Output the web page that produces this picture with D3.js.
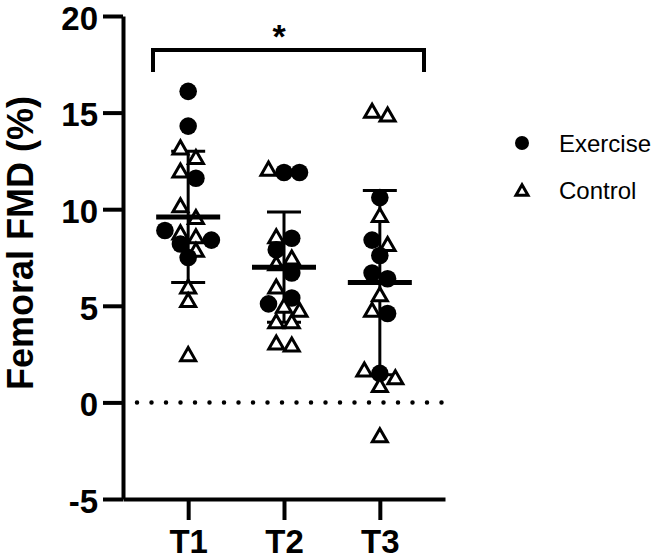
<!DOCTYPE html>
<html>
<head>
<meta charset="utf-8">
<script src="https://cdn.jsdelivr.net/npm/d3@7"></script>
<style>
    body { margin: 0; background: #ffffff; }
    svg text { font-family: "Liberation Sans", Arial, sans-serif; fill: #000000; }
</style>
</head>
<body>
<svg id="chart"></svg>
<script>
"use strict";

const width = 657;
const height = 560;

// values
const groups = ["T1", "T2", "T3"];
const exercise_t1 = [16.1, 14.3, 11.6, 8.9, 8.4, 8.2, 7.5];
const control_t1 = [13.2, 12.7, 12.0, 10.2, 9.6, 8.8, 8.6, 7.9, 6.0, 5.3, 2.5];
const exercise_t2 = [11.9, 11.9, 8.5, 7.9, 6.7, 5.4, 5.1];
const control_t2 = [12.1, 8.6, 7.5, 7.2, 6.0, 5.0, 4.8, 4.2, 4.2, 3.1, 3.0];
const exercise_t3 = [10.6, 8.4, 7.6, 6.7, 6.4, 4.6, 1.5];
const control_t3 = [15.1, 14.9, 9.7, 8.2, 5.6, 4.8, 1.7, 1.3, 0.9, -1.7];
const means = [9.6, 7.0, 6.2];
const sds = [3.4, 2.85, 4.77];
const y_ticks = [-5, 0, 5, 10, 15, 20];
const legend_labels = ["Exercise", "Control"];

const exercise_sets = [exercise_t1, exercise_t2, exercise_t3];
const control_sets = [control_t1, control_t2, control_t3];

const row_height = 13;
const row_max = 4;
const point_step = 15.5;
const circle_radius = 8.8;
const tri_half = 7.5;

const svg = d3.select("#chart")
    .attr("width", width)
    .attr("height", height);

const x = d3.scalePoint()
    .domain(groups)
    .range([123, 445])
    .padding(0.68);

const y = d3.scaleLinear()
    .domain([-5, 20])
    .range([499, 16]);

const triangle = `M0,${-tri_half * 0.87}L${tri_half},${tri_half * 0.87}L${-tri_half},${tri_half * 0.87}Z`;

// zero line
svg.append("line")
    .attr("x1", 137)
    .attr("x2", 445)
    .attr("y1", y(0))
    .attr("y2", y(0))
    .attr("stroke", "#000")
    .attr("stroke-width", 4.5)
    .attr("stroke-linecap", "round")
    .attr("stroke-dasharray", "0 14.5");

// axes
const y_axis = svg.append("g")
    .attr("transform", "translate(123,0)")
    .call(d3.axisLeft(y)
        .tickValues(y_ticks)
        .tickFormat(d => String(d))
        .tickSize(20)
        .tickSizeOuter(0)
        .tickPadding(5));

const x_axis = svg.append("g")
    .attr("transform", `translate(0,${y(-5)})`)
    .call(d3.axisBottom(x).tickSize(21).tickSizeOuter(0).tickPadding(10));

[y_axis, x_axis].forEach(g => {
    g.select(".domain").attr("stroke-width", 4).attr("stroke", "#000");
    g.selectAll(".tick line").attr("stroke-width", 4).attr("stroke", "#000");
    g.selectAll(".tick text")
        .style("font-size", "33px")
        .style("font-weight", "bold")
        .attr("fill", "#000");
});

y_axis.selectAll(".tick text").attr("dy", "0.4em");

svg.append("text")
    .attr("transform", "translate(33,243) rotate(-90)")
    .attr("text-anchor", "middle")
    .style("font-size", "36px")
    .style("font-weight", "bold")
    .text("Femoral FMD (%)");

// SD bars (behind points)
const bars = svg.append("g")
    .selectAll("g")
    .data(groups)
    .enter()
    .append("g")
    .attr("stroke", "#000")
    .attr("stroke-width", 3);

bars.append("line")
    .attr("x1", d => x(d))
    .attr("x2", d => x(d))
    .attr("y1", (d, i) => y(means[i] + sds[i]))
    .attr("y2", (d, i) => y(means[i] - sds[i]));

bars.append("line")
    .attr("x1", d => x(d) - 17)
    .attr("x2", d => x(d) + 17)
    .attr("y1", (d, i) => y(means[i] + sds[i]))
    .attr("y2", (d, i) => y(means[i] + sds[i]));

bars.append("line")
    .attr("x1", d => x(d) - 17)
    .attr("x2", d => x(d) + 17)
    .attr("y1", (d, i) => y(means[i] - sds[i]))
    .attr("y2", (d, i) => y(means[i] - sds[i]));

// points, spread sideways in rows
let points = [];
groups.forEach((g, gi) => {
    let group_points = [];
    exercise_sets[gi].forEach(v => group_points.push({ group: g, value: v, kind: "exercise" }));
    control_sets[gi].forEach(v => group_points.push({ group: g, value: v, kind: "control" }));
    group_points.sort((a, b) => b.value - a.value);

    let rows = [];
    for (const p of group_points) {
        let last = rows[rows.length - 1];
        if (last && last.length < row_max && y(p.value) - y(last[0].value) < row_height) {
            last.push(p);
        } else {
            rows.push([p]);
        }
    }
    rows.forEach(row => {
        row.forEach((p, i) => {
            p.dx = (i - (row.length - 1) / 2) * point_step;
        });
    });
    points = points.concat(group_points);
});

const marks = svg.append("g")
    .selectAll("g")
    .data(points)
    .enter()
    .append("g")
    .attr("transform", d => `translate(${x(d.group) + d.dx},${y(d.value)})`);

marks.filter(d => d.kind === "exercise")
    .append("circle")
    .attr("r", circle_radius)
    .attr("fill", "#000");

marks.filter(d => d.kind === "control")
    .append("path")
    .attr("d", triangle)
    .attr("fill", "#fff")
    .attr("stroke", "#000")
    .attr("stroke-width", 3);

// mean lines on top
svg.append("g")
    .selectAll("line")
    .data(groups)
    .enter()
    .append("line")
    .attr("x1", d => x(d) - 32)
    .attr("x2", d => x(d) + 32)
    .attr("y1", (d, i) => y(means[i]))
    .attr("y2", (d, i) => y(means[i]))
    .attr("stroke", "#000")
    .attr("stroke-width", 5);

// significance bracket T1 - T3
svg.append("path")
    .attr("d", `M153,72V50H424V72`)
    .attr("fill", "none")
    .attr("stroke", "#000")
    .attr("stroke-width", 4);

svg.append("text")
    .attr("x", 279)
    .attr("y", 48)
    .attr("text-anchor", "middle")
    .style("font-size", "34px")
    .style("font-weight", "bold")
    .text("*");

// legend
const legend = svg.append("g")
    .selectAll("g")
    .data(legend_labels)
    .enter()
    .append("g")
    .attr("transform", (d, i) => `translate(522,${143 + i * 47})`);

legend.filter((d, i) => i === 0)
    .append("circle")
    .attr("r", 7)
    .attr("fill", "#000");

legend.filter((d, i) => i === 1)
    .append("path")
    .attr("d", "M0,-5.2L6,5.2L-6,5.2Z")
    .attr("fill", "#fff")
    .attr("stroke", "#000")
    .attr("stroke-width", 3);

legend.append("text")
    .attr("x", 37)
    .attr("y", 9)
    .style("font-size", "24px")
    .text(d => d);
</script>
</body>
</html>
